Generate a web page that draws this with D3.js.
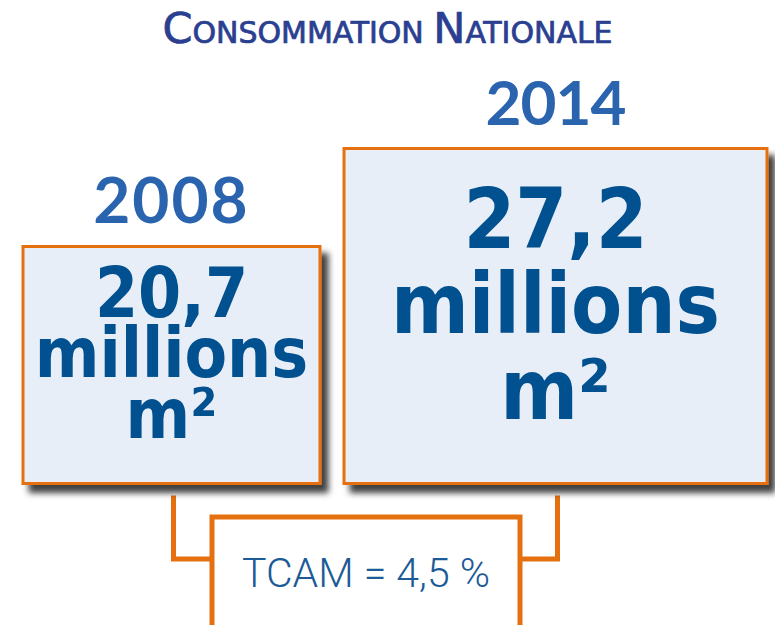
<!DOCTYPE html>
<html>
<head>
<meta charset="utf-8">
<script src="https://cdn.jsdelivr.net/npm/d3@7"></script>
<style>
  body { margin: 0; background: #fff; }
  svg { display: block; }
</style>
</head>
<body>
<svg width="775" height="625"></svg>
<script>
// data
const years = ["2008", "2014"];
const values = [20.7, 27.2];
const valueLabels = ["20,7", "27,2"];
const unitLines = ["millions", "m²"];
const tcam = "4,5";

const orange = "#e5700f",
    boxFill = "#e7eef7",
    valueBlue = "#01508f",
    yearBlue = "#2a64ae",
    titleBlue = "#2b3f91";

var svg = d3.select("svg"),
    width = +svg.attr("width"),
    height = +svg.attr("height");

// box size grows with the value
var w = d3.scaleLinear().domain(values).range([297, 423]);
var h = d3.scaleLinear().domain(values).range([237, 335]);
var fs = d3.scaleLinear().domain(values).range([69, 83]);
var yearFs = d3.scaleLinear().domain(values).range([64, 62]);

var baseY = 483.5, gap = 24, left0 = 23;

var boxes = values.map((v, i) => ({
    year: years[i], value: v, label: valueLabels[i],
    w: w(v), h: h(v)
}));
boxes.forEach((d, i) => {
    d.x = i === 0 ? left0 : boxes[i - 1].x + boxes[i - 1].w + gap;
    d.y = baseY - d.h;
    d.cx = d.x + d.w / 2;
});

var defs = svg.append("defs");
defs.append("filter")
    .attr("id", "shadow")
    .attr("x", "-10%").attr("y", "-10%")
    .attr("width", "130%").attr("height", "130%")
    .append("feDropShadow")
    .attr("dx", 7).attr("dy", 8)
    .attr("stdDeviation", 3)
    .attr("flood-color", "#000")
    .attr("flood-opacity", 0.75);

// title in small caps
var title = svg.append("text")
    .attr("x", width / 2)
    .attr("y", 43)
    .attr("text-anchor", "middle")
    .attr("textLength", 450)
    .attr("lengthAdjust", "spacingAndGlyphs")
    .style("font-family", "'DejaVu Sans Condensed', 'DejaVu Sans'")
    .style("fill", titleBlue)
    .style("stroke", titleBlue)
    .style("stroke-width", 0.7);
[["C", 43], ["ONSOMMATION ", 30], ["N", 43], ["ATIONALE", 30]].forEach(p => {
    title.append("tspan").attr("font-size", p[1]).text(p[0]);
});

// connector lines
var tcamBox = { x: 212, y: 517, w: 308, h: 130 };
var lineY = 559;
var conn = svg.append("g")
    .attr("fill", "none")
    .attr("stroke", orange)
    .attr("stroke-width", 5);
conn.append("path")
    .attr("d", `M${boxes[0].cx + 2},${baseY + 12}V${lineY}H${tcamBox.x}`);
conn.append("path")
    .attr("d", `M${boxes[1].cx + 2},${baseY + 12}V${lineY}H${tcamBox.x + tcamBox.w}`);

svg.append("rect")
    .attr("x", tcamBox.x).attr("y", tcamBox.y)
    .attr("width", tcamBox.w).attr("height", tcamBox.h)
    .attr("fill", "#fff")
    .attr("stroke", orange)
    .attr("stroke-width", 5);

svg.append("text")
    .attr("x", tcamBox.x + tcamBox.w / 2)
    .attr("y", 587)
    .attr("text-anchor", "middle")
    .style("font-family", "Roboto")
    .style("font-weight", 300)
    .style("font-size", "41px")
    .style("fill", "#1b5b97")
    .text("TCAM = " + tcam + " %");

// value boxes
var box = svg.append("g")
    .selectAll("g")
    .data(boxes)
    .enter().append("g");

box.append("rect")
    .attr("x", d => d.x)
    .attr("y", d => d.y)
    .attr("width", d => d.w)
    .attr("height", d => d.h)
    .attr("fill", boxFill)
    .attr("stroke", orange)
    .attr("stroke-width", 3)
    .attr("filter", "url(#shadow)");

box.append("text")
    .attr("x", d => d.cx)
    .attr("y", d => d.y - 24)
    .attr("text-anchor", "middle")
    .style("font-family", "Lato")
    .style("font-weight", 700)
    .style("font-size", d => yearFs(d.value) + "px")
    .style("letter-spacing", (d, i) => i === 0 ? "2px" : "-1px")
    .style("fill", yearBlue)
    .text(d => d.year);

box.each(function (d) {
    var g = d3.select(this);
    var lh = d.h * 0.255;
    var lines = [d.label].concat(unitLines);
    g.append("text")
        .attr("text-anchor", "middle")
        .style("font-family", "'DejaVu Sans Condensed', 'DejaVu Sans'")
        .style("font-weight", "bold")
        .style("font-size", fs(d.value) + "px")
        .style("fill", valueBlue)
        .selectAll("tspan")
        .data(lines)
        .enter().append("tspan")
        .attr("x", d.cx)
        .attr("y", (l, i) => d.y + d.h * 0.297 + i * lh)
        .text(l => l);
});
</script>
</body>
</html>
